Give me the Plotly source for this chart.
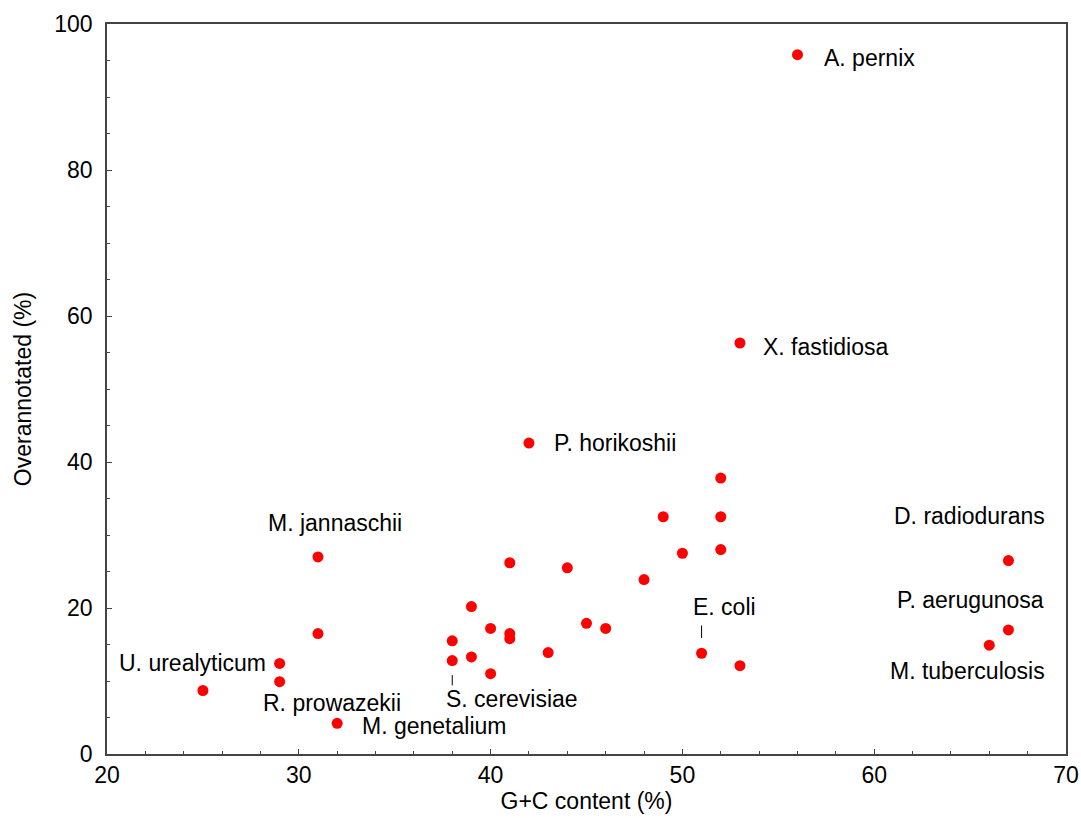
import plotly.graph_objects as go

# G+C content (%) and share of overannotated ORFs (%) per genome
gc_content = [56, 53, 42, 31, 31, 29, 29, 25, 32, 38, 38, 39, 39, 40, 40, 41, 41, 41,
              43, 44, 45, 46, 48, 49, 50, 52, 52, 52, 51, 53, 67, 67, 66]
overannotated = [95.8, 56.3, 42.6, 27.0, 16.5, 12.4, 9.9, 8.7, 4.2, 12.8, 15.5, 20.2, 13.3,
                 17.2, 11.0, 16.5, 15.8, 26.2, 13.9, 25.5, 17.9, 17.2, 23.9, 32.5, 27.5,
                 37.8, 32.5, 28.0, 13.8, 12.1, 26.5, 17.0, 14.9]

# Organism labels: text, anchor point (x, y), horizontal alignment
label_text = ["A. pernix", "X. fastidiosa", "P. horikoshii", "M. jannaschii",
              "U. urealyticum", "R. prowazekii", "M. genetalium", "S. cerevisiae",
              "E. coli", "D. radiodurans", "P. aerugunosa", "M. tuberculosis"]
label_x = [57.3, 54.1, 43.2, 31.9, 28.37, 28.05, 33.2, 41.1, 52.2, 69.0, 68.95, 69.0]
label_y = [95.3, 55.8, 42.6, 31.7, 12.5, 7.05, 3.9, 7.6, 20.2, 32.6, 21.1, 11.4]
label_align = ["left", "left", "left", "center", "right", "left", "left", "center",
               "center", "right", "right", "right"]

# Short leader lines from label to point: (x, y_start, y_end)
leaders = [(38, 10.8, 9.4), (51, 17.6, 15.9)]

FONT = "Liberation Sans, Arial, sans-serif"
FS = 23

fig = go.Figure()
fig.add_trace(go.Scatter(
    x=gc_content, y=overannotated, mode="markers",
    marker=dict(color="#ff0000", size=11, line=dict(width=0)),
    showlegend=False, hoverinfo="x+y",
))

for t, lx, ly, al in zip(label_text, label_x, label_y, label_align):
    fig.add_annotation(x=lx, y=ly, xref="x", yref="y", text=t, showarrow=False,
                       xanchor=al, yanchor="middle",
                       font=dict(family=FONT, size=FS, color="#000000"))

for lx, y0, y1 in leaders:
    fig.add_shape(type="line", x0=lx, x1=lx, y0=y0, y1=y1, xref="x", yref="y",
                  line=dict(color="#000000", width=1))

axis_common = dict(
    showgrid=False, zeroline=False, showline=True, linecolor="#444444", linewidth=1.5,
    mirror=True, ticks="inside", ticklen=5, tickwidth=1, tickcolor="#444444",
    tickfont=dict(family=FONT, size=FS, color="#000000"), automargin=False,
)

fig.update_xaxes(range=[20, 70], dtick=10, tick0=20,
                 minor=dict(dtick=2, ticks="inside", ticklen=3, tickcolor="#444444"),
                 title=dict(text="G+C content (%)", font=dict(family=FONT, size=FS, color="#000000"),
                            standoff=6),
                 **axis_common)
fig.update_yaxes(range=[0, 100], dtick=20, tick0=0, ticklabelstandoff=8,
                 minor=dict(dtick=5, ticks="inside", ticklen=3, tickcolor="#444444"),
                 title=dict(text="Overannotated (%)", font=dict(family=FONT, size=FS, color="#000000"),
                            standoff=16),
                 **axis_common)

fig.update_layout(
    width=1081, height=818,
    margin=dict(l=107, r=15, t=24, b=64),
    plot_bgcolor="#ffffff", paper_bgcolor="#ffffff",
    font=dict(family=FONT, color="#000000"),
)

fig.write_html("out.html")
